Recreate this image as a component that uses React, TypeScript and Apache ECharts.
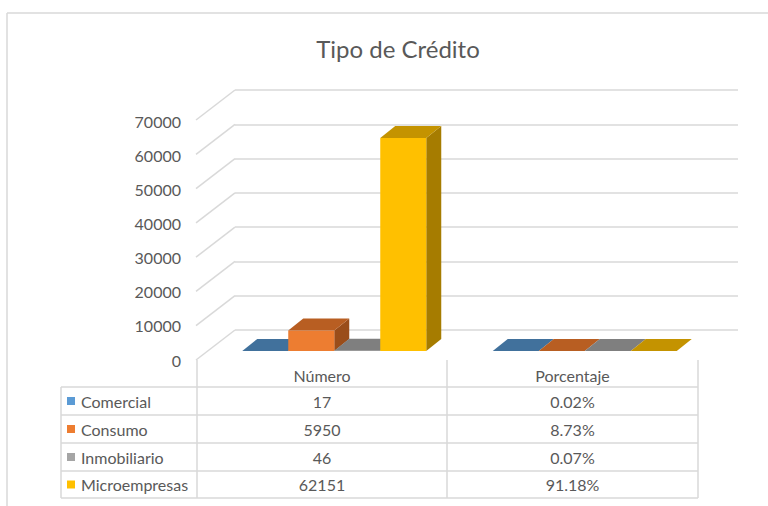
import React, { useEffect, useRef } from "react";
import * as echarts from "echarts";

const categories = ["Número", "Porcentaje"];
const seriesNames = ["Comercial", "Consumo", "Inmobiliario", "Microempresas"];
const numero = [17, 5950, 46, 62151];
const porcentaje = [0.02, 8.73, 0.07, 91.18];
const yTicks = [0, 10000, 20000, 30000, 40000, 50000, 60000, 70000];
const baseColors = ["#5B9BD5", "#ED7D31", "#A5A5A5", "#FFC000"];
const topColors = ["#41719C", "#B85E22", "#7F7F7F", "#C49300"];
const sideColors = ["#335A7C", "#9A4D1A", "#6A6A6A", "#A67C00"];

const FONT = "Lato";
const TXT = "#595959";
const LINE = "#d9d9d9";

const BAR_W = 46;
const DEPTH_X = 15;
const DEPTH_Y = 12;

export default function App() {
  const ref = useRef<HTMLDivElement>(null);
  useEffect(() => {
    if (!ref.current) return;
    const chart = echarts.init(ref.current, null, { renderer: "svg" });

    const barSeries = seriesNames.map((name, i) => ({
      type: "custom",
      name,
      xAxisIndex: 0,
      yAxisIndex: 0,
      z: 3,
      data: [
        [0, numero[i]],
        [1, porcentaje[i] / 100],
      ],
      renderItem: (params: any, api: any) => {
        const cat = api.value(0);
        const val = api.value(1);
        const top = api.coord([cat, val]);
        const bot = api.coord([cat, 0]);
        const x0 = top[0] - 80 + i * BAR_W;
        const x1 = x0 + BAR_W;
        const yT = top[1];
        const yB = bot[1];
        return {
          type: "group",
          children: [
            {
              type: "polygon",
              shape: {
                points: [
                  [x1, yT],
                  [x1 + DEPTH_X, yT - DEPTH_Y],
                  [x1 + DEPTH_X, yB - DEPTH_Y],
                  [x1, yB],
                ],
              },
              style: { fill: sideColors[i] },
            },
            {
              type: "rect",
              shape: { x: x0, y: yT, width: BAR_W, height: Math.max(yB - yT, 0) },
              style: { fill: baseColors[i] },
            },
            {
              type: "polygon",
              shape: {
                points: [
                  [x0, yT],
                  [x1, yT],
                  [x1 + DEPTH_X, yT - DEPTH_Y],
                  [x0 + DEPTH_X, yT - DEPTH_Y],
                ],
              },
              style: { fill: topColors[i] },
            },
          ],
        };
      },
    }));

    const diagSeries = {
      type: "custom",
      xAxisIndex: 1,
      yAxisIndex: 1,
      z: 1,
      silent: true,
      data: yTicks.map((v) => [0, v]),
      renderItem: (params: any, api: any) => {
        const p = api.coord([0, api.value(1)]);
        return {
          type: "line",
          shape: { x1: p[0], y1: p[1], x2: p[0] - 39, y2: p[1] + 30 },
          style: { stroke: LINE, lineWidth: 1.5 },
        };
      },
    };

    // table
    const colX = [197, 447, 698];
    const tableLeft = 61;
    const rowLines = [387, 415, 443, 471, 498];
    const headerY = 375;
    const tf = `16px ${FONT}`;
    const g: any[] = [];
    g.push({ type: "line", shape: { x1: 7, y1: 13, x2: 768, y2: 13 }, style: { stroke: LINE, lineWidth: 1.5 } });
    g.push({ type: "line", shape: { x1: 7, y1: 13, x2: 7, y2: 506 }, style: { stroke: LINE, lineWidth: 1.5 } });
    colX.forEach((x) =>
      g.push({ type: "line", shape: { x1: x, y1: 360, x2: x, y2: 498 }, style: { stroke: LINE, lineWidth: 1.5 } })
    );
    g.push({ type: "line", shape: { x1: tableLeft, y1: 387, x2: tableLeft, y2: 498 }, style: { stroke: LINE, lineWidth: 1.5 } });
    rowLines.forEach((y) =>
      g.push({ type: "line", shape: { x1: tableLeft, y1: y, x2: 698, y2: y }, style: { stroke: LINE, lineWidth: 1.5 } })
    );
    categories.forEach((c, ci) => {
      g.push({
        type: "text",
        x: (colX[ci] + colX[ci + 1]) / 2,
        y: headerY,
        style: { text: c, fill: TXT, font: tf, textAlign: "center", textVerticalAlign: "middle" },
      });
    });
    seriesNames.forEach((n, i) => {
      const cy = (rowLines[i] + rowLines[i + 1]) / 2;
      g.push({ type: "rect", shape: { x: 67, y: cy - 4, width: 8, height: 8 }, style: { fill: baseColors[i] } });
      g.push({
        type: "text",
        x: 81,
        y: cy,
        style: { text: n, fill: TXT, font: tf, textAlign: "left", textVerticalAlign: "middle" },
      });
      g.push({
        type: "text",
        x: (colX[0] + colX[1]) / 2,
        y: cy,
        style: { text: String(numero[i]), fill: TXT, font: tf, textAlign: "center", textVerticalAlign: "middle" },
      });
      g.push({
        type: "text",
        x: (colX[1] + colX[2]) / 2,
        y: cy,
        style: { text: porcentaje[i].toFixed(2) + "%", fill: TXT, font: tf, textAlign: "center", textVerticalAlign: "middle" },
      });
    });

    chart.setOption({
      animation: false,
      backgroundColor: "#ffffff",
      title: {
        text: "Tipo de Crédito",
        left: 393,
        top: 31,
        textAlign: "center",
        textStyle: { fontFamily: FONT, fontSize: 24, fontWeight: "normal", color: TXT },
      },
      grid: [
        { left: 197, width: 501, top: 111, height: 240 },
        { left: 235, width: 503, top: 90, height: 240 },
        { left: 196, width: 10, top: 121, height: 239 },
      ],
      xAxis: [
        { gridIndex: 0, type: "category", data: categories, show: false },
        { gridIndex: 1, type: "value", min: 0, max: 1, show: false },
        { gridIndex: 2, type: "value", min: 0, max: 1, show: false },
      ],
      yAxis: [
        { gridIndex: 0, type: "value", min: 0, max: 70000, interval: 10000, show: false },
        {
          gridIndex: 1,
          type: "value",
          min: 0,
          max: 70000,
          interval: 10000,
          axisLine: { show: false },
          axisTick: { show: false },
          axisLabel: { show: false },
          splitLine: { show: true, lineStyle: { color: LINE, width: 1.5 } },
        },
        {
          gridIndex: 2,
          type: "value",
          min: 0,
          max: 70000,
          interval: 10000,
          axisLine: { show: false },
          axisTick: { show: false },
          splitLine: { show: false },
          axisLabel: {
            margin: 15,
            color: TXT,
            fontFamily: FONT,
            fontSize: 16,
            formatter: (v: number) => String(v),
          },
        },
      ],
      series: [diagSeries, ...barSeries],
      graphic: g,
    });
    return () => chart.dispose();
  }, []);
  return <div ref={ref} style={{ position: "fixed", left: 0, top: 0, width: 768, height: 506 }} />;
}
